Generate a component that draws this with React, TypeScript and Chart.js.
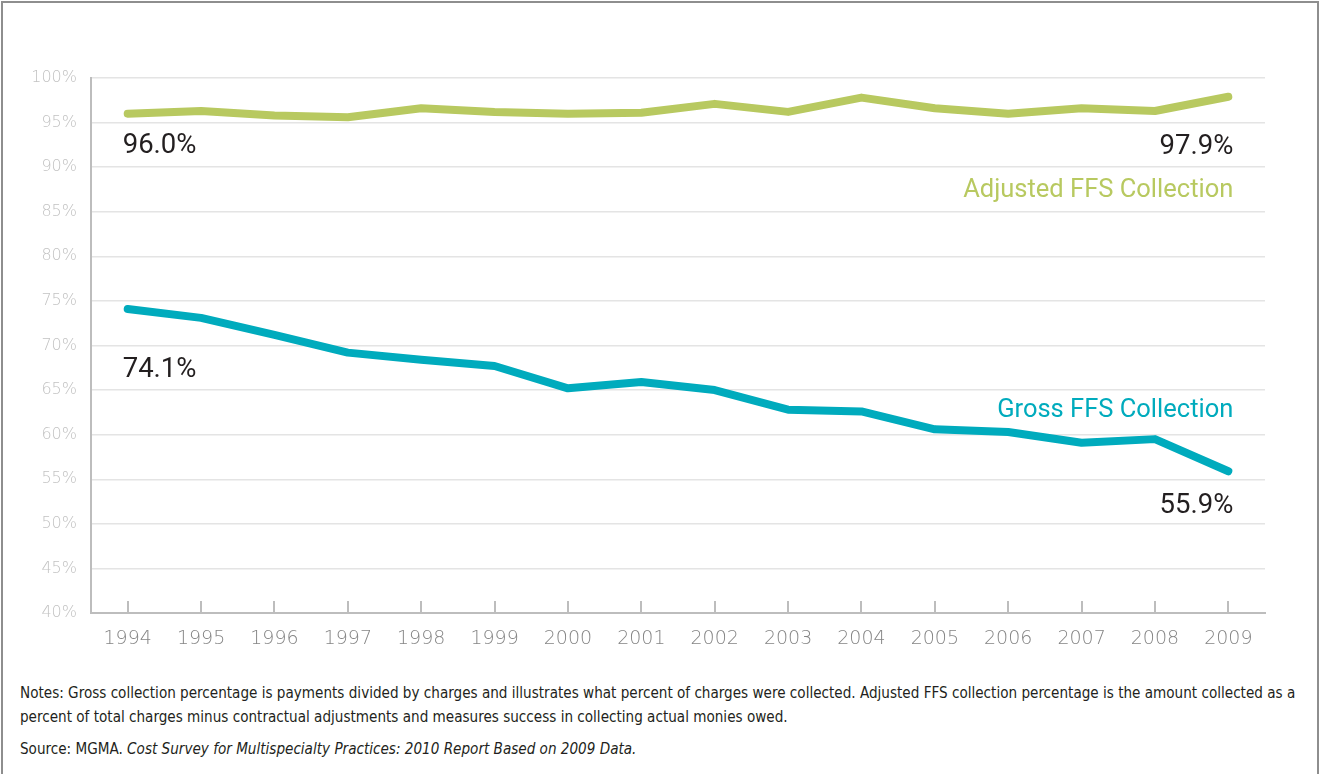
import React, { useEffect, useRef } from "react";
import { Chart, registerables } from "chart.js";

Chart.register(...registerables);

const years = ["1994","1995","1996","1997","1998","1999","2000","2001","2002","2003","2004","2005","2006","2007","2008","2009"];
const adjustedFFS = [96.0, 96.3, 95.8, 95.6, 96.6, 96.2, 96.0, 96.1, 97.1, 96.2, 97.8, 96.6, 96.0, 96.6, 96.3, 97.9];
const grossFFS = [74.1, 73.1, 71.2, 69.2, 68.4, 67.7, 65.2, 65.9, 65.0, 62.8, 62.6, 60.6, 60.3, 59.1, 59.5, 55.9];
const seriesNames = ["Adjusted FFS Collection", "Gross FFS Collection"];
const yMin = 40;
const yMax = 100;
const yStep = 5;

const GREEN = "#b8c960";
const TEAL = "#00abbd";
const AXIS = "#bdbdbd";

const labelPlugin = {
  id: "valueLabels",
  afterDatasetsDraw(chart: any) {
    const { ctx, scales } = chart;
    const xs = scales.x;
    const ys = scales.y;
    const n = years.length;
    const x0 = xs.getPixelForValue(0);
    const xN = xs.getPixelForValue(n - 1);
    ctx.save();
    ctx.textBaseline = "middle";
    ctx.fillStyle = "#231f20";
    ctx.font = "27.5px Roboto, 'Liberation Sans', sans-serif";
    ctx.textAlign = "left";
    ctx.fillText(adjustedFFS[0].toFixed(1) + "%", x0 - 5, ys.getPixelForValue(adjustedFFS[0]) + 32);
    ctx.fillText(grossFFS[0].toFixed(1) + "%", x0 - 5, ys.getPixelForValue(grossFFS[0]) + 61);
    ctx.textAlign = "right";
    ctx.fillText(adjustedFFS[n - 1].toFixed(1) + "%", xN + 5, ys.getPixelForValue(adjustedFFS[n - 1]) + 50);
    ctx.fillText(grossFFS[n - 1].toFixed(1) + "%", xN + 5, ys.getPixelForValue(grossFFS[n - 1]) + 35);
    ctx.font = "25.5px Roboto, 'Liberation Sans', sans-serif";
    ctx.fillStyle = GREEN;
    ctx.fillText(seriesNames[0], xN + 5, ys.getPixelForValue(adjustedFFS[n - 1]) + 94);
    ctx.fillStyle = TEAL;
    ctx.fillText(seriesNames[1], xN + 5, ys.getPixelForValue(grossFFS[n - 1]) - 61);
    ctx.restore();
  },
  afterDraw(chart: any) {
    const { ctx, scales } = chart;
    const xs = scales.x;
    ctx.save();
    ctx.strokeStyle = AXIS;
    ctx.lineWidth = 2;
    ctx.beginPath();
    for (let i = 0; i < xs.ticks.length; i++) {
      const x = Math.round(xs.getPixelForTick(i));
      ctx.moveTo(x, xs.top - 12);
      ctx.lineTo(x, xs.top);
    }
    ctx.stroke();
    ctx.restore();
  },
};

function LineChart() {
  const ref = useRef<HTMLCanvasElement>(null);
  useEffect(() => {
    if (!ref.current) return;
    const chart = new Chart(ref.current, {
      type: "line",
      data: {
        labels: years,
        datasets: [
          {
            label: seriesNames[0],
            data: adjustedFFS,
            borderColor: GREEN,
            backgroundColor: GREEN,
            borderWidth: 8,
            pointRadius: 0,
            borderCapStyle: "round",
            borderJoinStyle: "round",
            tension: 0,
          },
          {
            label: seriesNames[1],
            data: grossFFS,
            borderColor: TEAL,
            backgroundColor: TEAL,
            borderWidth: 8,
            pointRadius: 0,
            borderCapStyle: "round",
            borderJoinStyle: "round",
            tension: 0,
          },
        ],
      },
      options: {
        responsive: false,
        animation: false,
        devicePixelRatio: 1,
        layout: { padding: { left: 0, top: 78, right: 55, bottom: 0 } },
        plugins: { legend: { display: false }, tooltip: { enabled: false } },
        scales: {
          x: {
            type: "category",
            offset: true,
            grid: { display: false, drawTicks: false },
            border: { display: true, color: AXIS, width: 2 },
            ticks: {
              color: "#858585",
              padding: 15,
              maxRotation: 0,
              font: { family: "'DejaVu Sans', Roboto, sans-serif", size: 19, weight: "200" },
            },
            afterFit(scale: any) {
              scale.height = 47;
            },
          },
          y: {
            min: yMin,
            max: yMax,
            ticks: {
              stepSize: yStep,
              color: "#c2c2c2",
              padding: 14,
              font: { family: "'DejaVu Sans', Roboto, sans-serif", size: 16, weight: "200" },
              callback: (v: any) => v + "%",
            },
            grid: { color: "#e4e4e4", lineWidth: 1.5, drawTicks: false },
            border: { display: true, color: AXIS, width: 2 },
            afterFit(scale: any) {
              scale.width = 91;
            },
          },
        },
      },
      plugins: [labelPlugin],
    } as any);
    return () => chart.destroy();
  }, []);
  return <canvas ref={ref} width={1320} height={660} style={{ position: "absolute", left: 0, top: 0, width: 1320, height: 660 }} />;
}

export default function App() {
  const noteFont = "'Liberation Sans Narrow', 'DejaVu Sans Condensed', 'Roboto Condensed', sans-serif";
  return (
    <div style={{ position: "absolute", left: 0, top: 0, width: 1320, height: 774, background: "#fff", overflow: "hidden" }}>
      <div style={{ position: "absolute", left: 1, top: 1, width: 1314, height: 800, borderLeft: "2px solid #8e8e8e", borderTop: "2px solid #8e8e8e", borderRight: "2px solid #8e8e8e" }} />
      <LineChart />
      <div style={{ position: "absolute", left: 20, top: 681, width: 1292, fontFamily: noteFont, fontSize: 15.1, color: "#231f20", lineHeight: "24px" }}>
        Notes: Gross collection percentage is payments divided by charges and illustrates what percent of charges were collected. Adjusted FFS collection percentage is the amount collected as a percent of total charges minus contractual adjustments and measures success in collecting actual monies owed.
      </div>
      <div style={{ position: "absolute", left: 20, top: 737, fontFamily: noteFont, fontSize: 15.1, color: "#231f20", lineHeight: "24px" }}>
        Source: MGMA. <i>Cost Survey for Multispecialty Practices: 2010 Report Based on 2009 Data.</i>
      </div>
    </div>
  );
}
